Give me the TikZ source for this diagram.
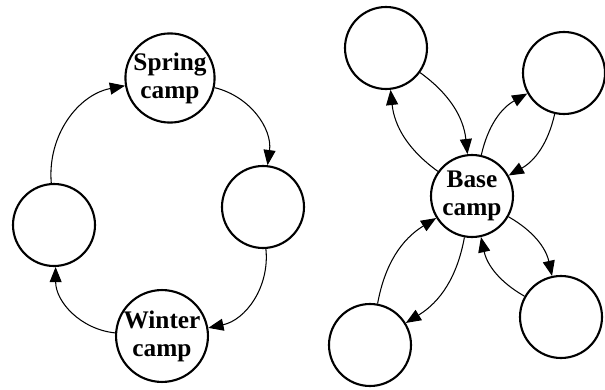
\documentclass[tikz,border=0pt]{standalone}
\usepackage{fontspec}
\setmainfont{Liberation Serif}
\usetikzlibrary{positioning,arrows.meta}

\tikzset{
  camp/.style={circle, draw, line width=1.5pt, minimum size=2.05cm, inner sep=0pt,
    align=center, font=\fontsize{18}{20}\selectfont\bfseries},
  move/.style={line width=0.75pt, -{Triangle[length=3.8mm,width=3mm]}}
}

\begin{document}
\begin{tikzpicture}
          \useasboundingbox (0,0) rectangle (15.125,9.725);

          % Define the nodes of the cycle
          \node[camp] (spring) at (4.25, 7.775) {Spring\\camp};
          \node[camp] (east) at (6.575, 4.55) {};
          \node[camp] (winter) at (4.05, 1.325) {Winter\\camp};
          \node[camp] (west) at (1.35, 4.1) {};

          % Draw the arrows round the cycle
          \draw[move] (west) to [bend left=42] (spring);
          \draw[move] (spring) to [bend left=42] (east);
          \draw[move] (east) to [bend left=42] (winter);
          \draw[move] (winter) to [bend left=42] (west);

          % Define the nodes of the star
          \node[camp] (base) at (11.8, 4.825) {Base\\camp};
          \node[camp] (nw) at (9.65, 8.525) {};
          \node[camp] (ne) at (14.1, 7.9) {};
          \node[camp] (sw) at (9.25, 1.1) {};
          \node[camp] (se) at (14.025, 1.8) {};

          % Draw the arrows out of and back to the base
          \draw[move] (base) to [bend left=24] (nw);
          \draw[move] (nw) to [bend left=24] (base);
          \draw[move] (base) to [bend left=24] (ne);
          \draw[move] (ne) to [bend left=24] (base);
          \draw[move] (base) to [bend left=24] (se);
          \draw[move] (se) to [bend left=24] (base);
          \draw[move] (base) to [bend left=24] (sw);
          \draw[move] (sw) to [bend left=24] (base);

          \end{tikzpicture}
\end{document}
